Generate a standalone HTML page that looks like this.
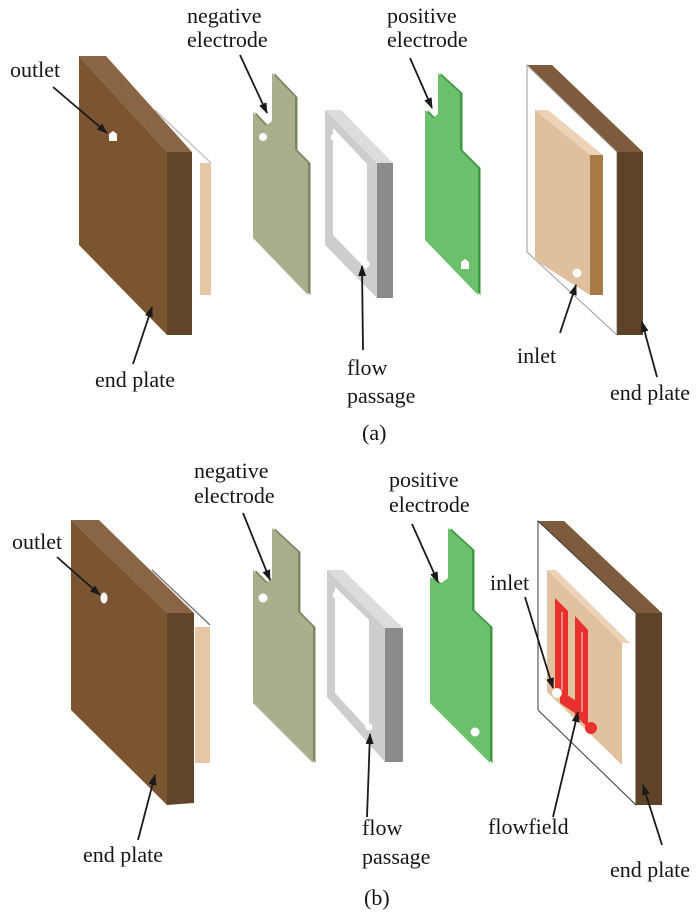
<!DOCTYPE html>
<html><head><meta charset="utf-8"><style>
html,body{margin:0;padding:0;background:#fff;}
svg{display:block;}
text{font-family:"Liberation Serif","Times New Roman",serif;font-size:22px;fill:#161616;}
</style></head><body>
<svg width="700" height="913" viewBox="0 0 700 913" xmlns="http://www.w3.org/2000/svg">
<defs>
<marker id="ah" markerWidth="11" markerHeight="8" refX="10" refY="4" orient="auto" markerUnits="userSpaceOnUse">
<path d="M0,0 L11,4 L0,8 z" fill="#1a1a1a"/>
</marker>
</defs>
<rect width="700" height="913" fill="#fff"/>

<!-- ================= (a) ================= -->
<!-- left end plate -->
<line x1="155" y1="110" x2="211" y2="163" stroke="#c4c4c4" stroke-width="1.5"/>
<polygon points="200,163 211,163 211,295 200,295" fill="#e6c6a4"/>
<polygon points="79,56 106,56 192,152 167,152" fill="#8a6545"/>
<polygon points="79,56 167,152 167,335 79,245" fill="#7b5532"/>
<polygon points="167,152 192,152 192,335 167,335" fill="#61452a"/>
<polygon points="109,134 113,131 117,134 117,141 109,141" fill="#fff"/>
<line x1="53" y1="87" x2="107" y2="133" stroke="#1a1a1a" stroke-width="1.8" marker-end="url(#ah)"/>
<text x="10" y="77">outlet</text>
<line x1="133" y1="364" x2="152" y2="307" stroke="#1a1a1a" stroke-width="1.8" marker-end="url(#ah)"/>
<text x="95" y="387">end plate</text>

<!-- negative electrode -->
<polygon points="274.5,73 297.5,97 297.5,150 310.5,163 310.5,295 255.5,238 255.5,112 268.5,126 274.5,121" fill="#7b8761"/>
<polygon points="272,73 295,97 295,150 308,163 308,295 253,238 253,112 266,126 272,121" fill="#a9ae8d"/>
<circle cx="263" cy="137" r="4" fill="#fff"/>
<line x1="240" y1="55" x2="267" y2="113" stroke="#1a1a1a" stroke-width="1.8" marker-end="url(#ah)"/>
<text x="187" y="23">negative</text>
<text x="187" y="47">electrode</text>

<!-- flow passage -->
<polygon points="325,110 341,110 393,163 377,163" fill="#dcdcdc"/>
<polygon points="325,110 377,163 377,298 325,245" fill="#cdcdcd"/>
<polygon points="377,163 393,163 393,298 377,298" fill="#8b8b8b"/>
<polygon points="333,128 367,164 367,270 333,235" fill="#fff"/>
<circle cx="334" cy="137" r="3.5" fill="#fff"/>
<circle cx="366" cy="264" r="3.5" fill="#fff"/>
<line x1="363" y1="350" x2="362" y2="266" stroke="#1a1a1a" stroke-width="1.8" marker-end="url(#ah)"/>
<text x="347" y="375">flow</text>
<text x="347" y="403">passage</text>

<!-- positive electrode -->
<polygon points="440.5,73 462.5,93 462.5,150 480.5,168 480.5,295 427.5,240 427.5,110 435.5,118 440.5,114" fill="#3e9741"/>
<polygon points="438,73 460,93 460,150 478,168 478,295 425,240 425,110 433,118 438,114" fill="#6cc06b"/>
<polygon points="461,262 465,259 469,262 469,269 461,269" fill="#fff"/>
<line x1="410" y1="58" x2="432" y2="108" stroke="#1a1a1a" stroke-width="1.8" marker-end="url(#ah)"/>
<text x="387" y="23">positive</text>
<text x="387" y="47">electrode</text>

<!-- right end plate -->
<polygon points="527,65 552,65 643,152 617,152" fill="#7e5b3c"/>
<polygon points="527,65 617,152 617,335 527,252" fill="#fff" stroke="#9a9a9a" stroke-width="1"/>
<polygon points="617,152 643,152 643,335 617,335" fill="#5f4329"/>
<polygon points="535,110 548,110 603,155 590,155" fill="#ecd2b6"/>
<polygon points="535,110 590,155 590,295 535,260" fill="#e0bf9c"/>
<polygon points="590,155 603,155 603,295 590,295" fill="#a87a45"/>
<circle cx="577" cy="273" r="4.5" fill="#fff"/>
<line x1="560" y1="333" x2="576" y2="285" stroke="#1a1a1a" stroke-width="1.8" marker-end="url(#ah)"/>
<text x="517" y="363">inlet</text>
<line x1="657" y1="377" x2="642" y2="322" stroke="#1a1a1a" stroke-width="1.8" marker-end="url(#ah)"/>
<text x="610" y="400">end plate</text>

<text x="362" y="440">(a)</text>

<!-- ================= (b) ================= -->
<!-- left end plate -->
<line x1="152" y1="570" x2="210" y2="625" stroke="#7a7a7a" stroke-width="1.5"/>
<polygon points="195,627 210,627 210,763 195,763" fill="#e6c6a4"/>
<polygon points="71,520 99,520 194,613 167,613" fill="#8a6545"/>
<polygon points="71,520 167,613 167,805 71,710" fill="#7b5532"/>
<polygon points="167,613 194,613 194,803 167,805" fill="#61452a"/>
<ellipse cx="104" cy="598" rx="3.5" ry="5.5" fill="#fff"/>
<line x1="57" y1="557" x2="100" y2="595" stroke="#1a1a1a" stroke-width="1.8" marker-end="url(#ah)"/>
<text x="12" y="549">outlet</text>
<line x1="138" y1="840" x2="155" y2="775" stroke="#1a1a1a" stroke-width="1.8" marker-end="url(#ah)"/>
<text x="83" y="862">end plate</text>

<!-- negative electrode -->
<polygon points="274.5,528 300.5,552 300.5,612 315.5,627 315.5,763 255.5,703 255.5,570 268.5,583 274.5,578" fill="#7b8761"/>
<polygon points="272,528 298,552 298,612 313,627 313,763 253,703 253,570 266,583 272,578" fill="#a9ae8d"/>
<circle cx="263" cy="598" r="4.5" fill="#fff"/>
<line x1="243" y1="513" x2="270" y2="580" stroke="#1a1a1a" stroke-width="1.8" marker-end="url(#ah)"/>
<text x="194" y="478">negative</text>
<text x="194" y="503">electrode</text>

<!-- flow passage -->
<polygon points="327,570 343,570 403,628 385,628" fill="#dcdcdc"/>
<polygon points="327,570 385,628 385,762 327,697" fill="#cdcdcd"/>
<polygon points="385,628 403,628 403,762 385,762" fill="#8b8b8b"/>
<polygon points="335,587 369,620 369,730 335,693" fill="#fff"/>
<circle cx="336" cy="595" r="3.5" fill="#fff"/>
<circle cx="369" cy="727" r="3.5" fill="#fff"/>
<line x1="367" y1="817" x2="370" y2="734" stroke="#1a1a1a" stroke-width="1.8" marker-end="url(#ah)"/>
<text x="362" y="835">flow</text>
<text x="362" y="864">passage</text>

<!-- positive electrode -->
<polygon points="450.5,528 474.5,550 474.5,610 492.5,627 492.5,763 432.5,703 432.5,577 442.5,584 450.5,578" fill="#3e9741"/>
<polygon points="448,528 472,550 472,610 490,627 490,763 430,703 430,577 440,584 448,578" fill="#6cc06b"/>
<circle cx="475" cy="732" r="4.5" fill="#fff"/>
<line x1="412" y1="524" x2="438" y2="582" stroke="#1a1a1a" stroke-width="1.8" marker-end="url(#ah)"/>
<text x="389" y="487">positive</text>
<text x="389" y="512">electrode</text>

<!-- right end plate -->
<polygon points="538,521 564,521 662,613 636,613" fill="#7e5b3c"/>
<polygon points="538,521 636,613 636,805 538,710" fill="#fff" stroke="#3a3a3a" stroke-width="1"/>
<polygon points="636,613 662,613 662,805 636,805" fill="#5f4329"/>
<polygon points="547,570 622,643 622,765 547,692" fill="#e2c19f"/>
<polygon points="547,570 556,570 630,643 622,643" fill="#ecd3b8"/>
<polygon points="555,598 568,611 568,705 555,692" fill="#e8302c"/>
<polygon points="560,690 582,705 582,718 560,703" fill="#e8302c"/>
<polygon points="575,616 588,630 588,728 575,715" fill="#e8302c"/>
<circle cx="591" cy="728" r="6" fill="#e8302c"/>
<line x1="562" y1="612" x2="562" y2="690" stroke="#f2a3a0" stroke-width="1.5"/>
<line x1="582" y1="632" x2="582" y2="712" stroke="#f2a3a0" stroke-width="1.5"/>
<circle cx="557" cy="693" r="5" fill="#fff"/>
<line x1="525" y1="597" x2="553" y2="688" stroke="#1a1a1a" stroke-width="1.8" marker-end="url(#ah)"/>
<text x="490" y="590">inlet</text>
<line x1="553" y1="817" x2="578" y2="712" stroke="#1a1a1a" stroke-width="1.8" marker-end="url(#ah)"/>
<text x="488" y="834">flowfield</text>
<line x1="662" y1="845" x2="643" y2="785" stroke="#1a1a1a" stroke-width="1.8" marker-end="url(#ah)"/>
<text x="610" y="877">end plate</text>

<text x="364" y="905">(b)</text>
</svg>
</body></html>
